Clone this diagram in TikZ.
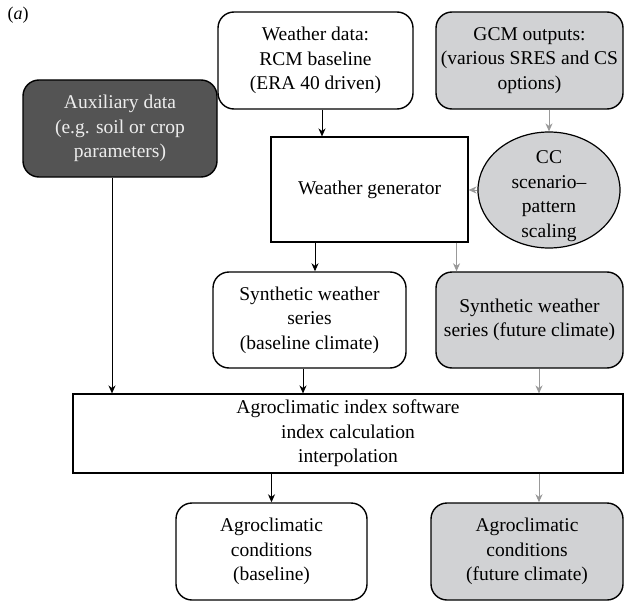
\documentclass[tikz,border=0pt]{standalone}
\usepackage{fontspec}
\setmainfont{Liberation Serif}
\usetikzlibrary{arrows.meta,shapes.geometric}
\definecolor{auxgrey}{gray}{0.33}
\definecolor{auxtext}{gray}{0.93}
\definecolor{futgrey}{RGB}{209,210,212}
\definecolor{linkgrey}{gray}{0.6}

\begin{document}
\begin{tikzpicture}[x=1pt, y=-1pt, font=\fontsize{19.5}{24.5}\selectfont,
  box/.style={draw, line width=1.4pt, rounded corners=16pt, align=center,
    inner sep=0pt, minimum width=#1, minimum height=97pt},
  box/.default=193pt,
  flatbox/.style={draw, line width=1.1pt, align=center, inner sep=0pt},
  link/.style={-{Stealth[length=8pt,width=7pt,inset=2.5pt]}, line width=1pt},
  greylink/.style={link, linkgrey}]
  \useasboundingbox (0,0) rectangle (624,602);
  \node (panel) at (18,15) {\fontsize{18}{20}\selectfont(\textit{a})};
  % inputs
  \node[box=195pt] (wdata) at (315.5,60.5) {Weather data:\\RCM baseline\\(ERA 40 driven)};
  \node[box=187pt, fill=futgrey] (gcm) at (529.5,60.5) {GCM outputs:\\(various SRES and CS\\options)};
  \node[box=194pt, fill=auxgrey, text=auxtext] (aux) at (120,128.5) {Auxiliary data\\(e.g. soil or crop\\parameters)};
  % generator and scenario
  \node[flatbox, minimum width=197pt, minimum height=105pt] (wgen) at (369.5,189.5) {Weather generator};
  \node[ellipse, draw, line width=1.2pt, fill=futgrey, minimum width=142pt, minimum height=116pt] (cc) at (549,190) {};
  \node[align=center, inner sep=0pt] (cctext) at ([yshift=-6pt]cc.center) {CC\\scenario--\\pattern\\scaling};
  % synthetic series
  \node[box, minimum height=96pt] (synb) at (309.5,320) {Synthetic weather\\series\\(baseline climate)};
  \node[box=187pt, minimum height=96pt, fill=futgrey] (synf) at (529.5,320) {Synthetic weather\\series (future climate)};
  % index software and results
  \node[flatbox, minimum width=550pt, minimum height=79pt] (agro) at (348,433.5) {Agroclimatic index software\\index calculation\\interpolation};
  \node[box=191pt] (agb) at (271.5,551.5) {Agroclimatic\\conditions\\(baseline)};
  \node[box=192pt, fill=futgrey] (agf) at (527,551.5) {Agroclimatic\\conditions\\(future climate)};
  % connectors
  \draw[link] ([xshift=6.5pt]wdata.south) -- ([xshift=6.5pt]wdata.south |- wgen.north);
  \draw[greylink] (cc.north |- gcm.south) -- (cc.north);
  \draw[greylink] (cc.west) -- (cc.west -| wgen.east);
  \draw[link] ([xshift=5.5pt]synb.north |- wgen.south) -- ([xshift=5.5pt]synb.north);
  \draw[greylink] ([xshift=-12pt]wgen.south east) -- ([xshift=-12pt]wgen.south east |- synf.north);
  \draw[link] ([xshift=-8pt]aux.south) -- ([xshift=-8pt]aux.south |- agro.north);
  \draw[link] ([xshift=-6.5pt]synb.south) -- ([xshift=-6.5pt]synb.south |- agro.north);
  \draw[greylink] ([xshift=9.5pt]synf.south) -- ([xshift=9.5pt]synf.south |- agro.north);
  \draw[link] (agb.north |- agro.south) -- (agb.north);
  \draw[greylink] ([xshift=12pt]agf.north |- agro.south) -- ([xshift=12pt]agf.north);
\end{tikzpicture}
\end{document}
